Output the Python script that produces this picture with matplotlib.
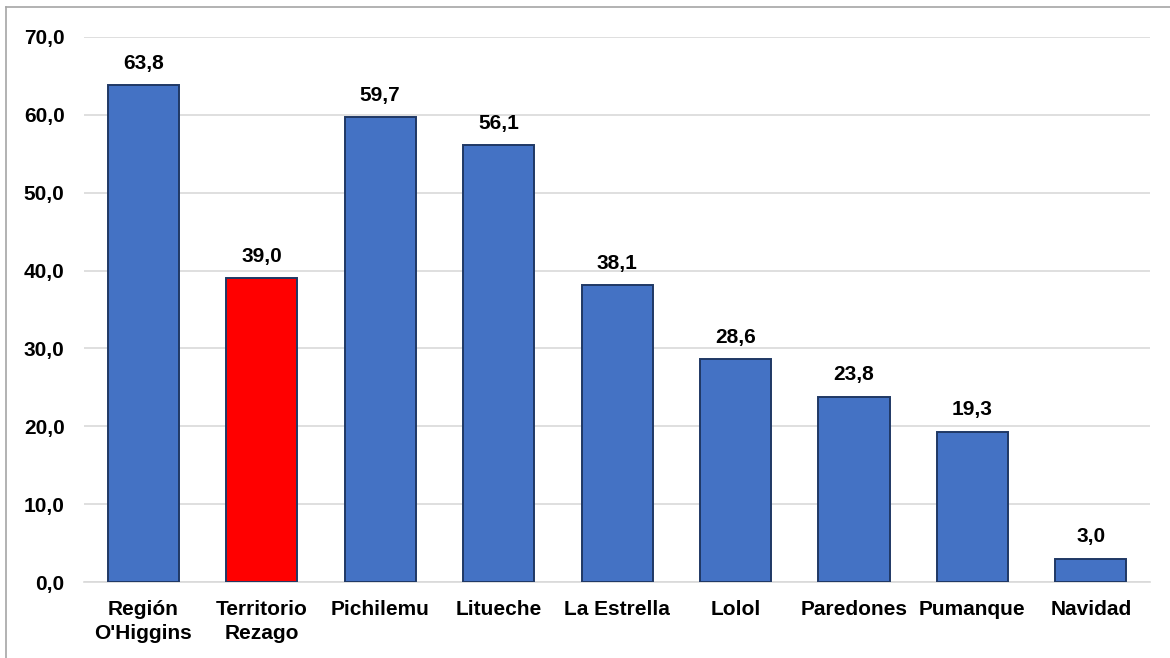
import matplotlib
matplotlib.use("Agg")
import matplotlib.pyplot as plt
from matplotlib.lines import Line2D

categories = ["Región\nO'Higgins", "Territorio\nRezago", "Pichilemu", "Litueche",
              "La Estrella", "Lolol", "Paredones", "Pumanque", "Navidad"]
values = [63.8, 39.0, 59.7, 56.1, 38.1, 28.6, 23.8, 19.3, 3.0]
highlight = "Territorio\nRezago"
yticks = [0, 10, 20, 30, 40, 50, 60, 70]

plt.rcParams['font.family'] = ['Liberation Sans', 'DejaVu Sans']

fig = plt.figure(figsize=(11.7, 6.58), dpi=100)
ax = fig.add_axes([0.0718, 0.1155, 0.9112, 0.8283])

FS = 15
colors = ['#FF0000' if c == highlight else '#4472C4' for c in categories]
x = list(range(len(categories)))
ax.bar(x, values, width=0.6, color=colors, edgecolor='#1F3864', linewidth=1.4, zorder=3)

for xi, v in zip(x, values):
    ax.text(xi, v + 1.6, f"{v:.1f}".replace('.', ','), ha='center', va='bottom',
            fontsize=FS, fontweight='bold', color='black')

ax.set_xlim(-0.5, len(categories) - 0.5)
ax.set_ylim(0, 70)
ax.set_yticks(yticks)
ax.set_yticklabels([f"{t:.1f}".replace('.', ',') for t in yticks], fontsize=FS, fontweight='bold')
ax.set_xticks(x)
ax.set_xticklabels(categories, fontsize=FS, fontweight='bold', linespacing=1.35)
ax.grid(axis='y', color='#D9D9D9', linewidth=1.2, zorder=0)
for s in ['top', 'right', 'left']:
    ax.spines[s].set_visible(False)
ax.spines['bottom'].set_color('#D9D9D9')
ax.spines['bottom'].set_linewidth(1.2)
ax.tick_params(axis='both', length=0)
ax.tick_params(axis='y', pad=14)
ax.tick_params(axis='x', pad=13)

# outer border (top and left visible)
fig.add_artist(Line2D([6/1170, 6/1170], [0, 1 - 7/658], transform=fig.transFigure, color='#A6A6A6', linewidth=1.2))
fig.add_artist(Line2D([6/1170, 1], [1 - 7/658, 1 - 7/658], transform=fig.transFigure, color='#A6A6A6', linewidth=1.2))

fig.savefig("out.png", dpi=100)
